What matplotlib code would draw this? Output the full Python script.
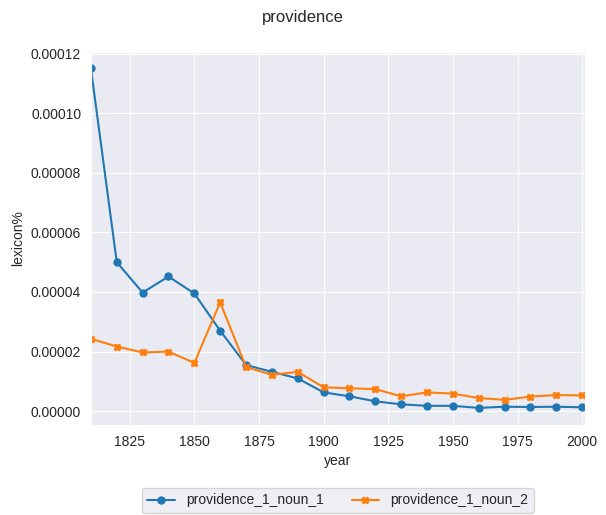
import numpy as np
import matplotlib
matplotlib.use("Agg")
import matplotlib.pyplot as plt
import seaborn as sns

years = list(range(1810, 2001, 10))
noun_1 = [0.000115, 0.0000500, 0.0000398, 0.0000452, 0.0000395, 0.0000270, 0.0000155,
          0.0000132, 0.0000110, 0.0000063, 0.0000050, 0.0000033, 0.0000023, 0.0000018,
          0.0000018, 0.0000011, 0.0000015, 0.0000014, 0.0000015, 0.0000013]
noun_2 = [0.0000243, 0.0000217, 0.0000197, 0.0000200, 0.0000162, 0.0000365, 0.0000148,
          0.0000122, 0.0000132, 0.0000080, 0.0000077, 0.0000074, 0.0000050, 0.0000063,
          0.0000059, 0.0000044, 0.0000038, 0.0000049, 0.0000054, 0.0000053]

sns.set_style("darkgrid")
plt.rcParams['font.family'] = ['Liberation Sans', 'DejaVu Sans']

fig, ax = plt.subplots(figsize=(6.06, 5.15), dpi=100)
ax.plot(years, noun_1, marker='o', markersize=5, color='#1f77b4', label='providence_1_noun_1')
ax.plot(years, noun_2, marker='X', markersize=5, color='#ff7f0e', label='providence_1_noun_2')
ax.set_xlim(1810, 2001)
ax.set_xticks([1825, 1850, 1875, 1900, 1925, 1950, 1975, 2000])
ax.set_yticks(np.arange(0, 0.000121, 0.00002))
ax.yaxis.set_major_formatter(matplotlib.ticker.FormatStrFormatter('%.5f'))
ax.set_xlabel('year')
ax.set_ylabel('lexicon%')
fig.suptitle('providence')
ax.legend(loc='upper center', bbox_to_anchor=(0.5, -0.15), ncol=2)
fig.subplots_adjust(left=0.15, right=0.965, top=0.9, bottom=0.175)
fig.savefig('out.png')
